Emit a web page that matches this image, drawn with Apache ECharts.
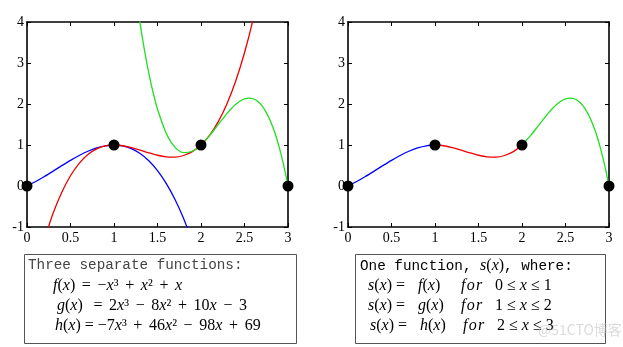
<!DOCTYPE html>
<html><head><meta charset="utf-8">
<script src="https://cdn.jsdelivr.net/npm/echarts@6/dist/echarts.min.js"></script>
<style>html,body{margin:0;padding:0;background:#fff}#c{width:623px;height:347px}</style>
</head><body><div id="c"></div>
<script>
// x positions and values
const fX = [0,0.1,0.2,0.3,0.4,0.5,0.6,0.7,0.8,0.9,1.0,1.1,1.2,1.3,1.4,1.5,1.6,1.7,1.8,1.9];
const fY = [0,0.109,0.232,0.363,0.496,0.625,0.744,0.847,0.928,0.981,1,0.979,0.912,0.793,0.616,0.375,0.064,-0.323,-0.792,-1.349];
const gX = [0.2,0.3,0.4,0.5,0.6,0.7,0.8,0.9,1.0,1.1,1.2,1.3,1.4,1.5,1.6,1.7,1.8,1.9,2.0,2.1,2.2,2.3,2.4,2.5,2.6,2.7];
const gY = [-1.304,-0.666,-0.152,0.25,0.552,0.766,0.904,0.978,1,0.982,0.936,0.874,0.808,0.75,0.712,0.706,0.744,0.838,1,1.242,1.576,2.014,2.568,3.25,4.072,5.046];
const hX = [1.2,1.25,1.3,1.35,1.4,1.45,1.5,1.6,1.7,1.8,1.9,2.0,2.1,2.2,2.3,2.35,2.4,2.45,2.5,2.55,2.6,2.65,2.7,2.75,2.8,2.85,2.9,2.95,3.0];
const hY = [5.544,4.703,3.961,3.312,2.752,2.275,1.875,1.288,0.949,0.816,0.847,1,1.233,1.504,1.771,1.890,1.992,2.072,2.125,2.145,2.128,2.068,1.959,1.797,1.576,1.291,0.937,0.508,0];
const knotX = [0,1,2,3];
const knotY = [0,1,1,0];
const xTicks = ['0','0.5','1','1.5','2','2.5','3'];
const yTicks = ['-1','0','1','2','3','4'];

const pairs = (xs, ys) => xs.map((x, i) => [x, ys[i]]);
const range = (xs, ys, a, b) => pairs(xs, ys).filter(p => p[0] >= a - 1e-9 && p[0] <= b + 1e-9);

const labelFont = {fontFamily: 'Liberation Serif', fontSize: 14, color: '#000'};
function xAxes(gi) {
  return [
    {gridIndex: gi, type: 'value', min: 0, max: 3, interval: 0.5, position: 'bottom',
     axisLine: {show: true, onZero: false, lineStyle: {color: '#000', width: 1.6}},
     axisTick: {show: true, inside: true, length: 4, lineStyle: {color: '#000'}},
     axisLabel: Object.assign({margin: 4, formatter: v => xTicks[Math.round(v * 2)]}, labelFont),
     splitLine: {show: false}},
    {gridIndex: gi, type: 'value', min: 0, max: 3, interval: 0.5, position: 'top',
     axisLine: {show: true, onZero: false, lineStyle: {color: '#000', width: 1.6}},
     axisTick: {show: true, inside: true, length: 4, lineStyle: {color: '#000'}},
     axisLabel: {show: false}, splitLine: {show: false}}
  ];
}
function yAxes(gi) {
  return [
    {gridIndex: gi, type: 'value', min: -1, max: 4, interval: 1, position: 'left',
     axisLine: {show: true, onZero: false, lineStyle: {color: '#000', width: 1.6}},
     axisTick: {show: true, inside: true, length: 4, lineStyle: {color: '#000'}},
     axisLabel: Object.assign({margin: 3, formatter: v => yTicks[v + 1]}, labelFont),
     splitLine: {show: false}},
    {gridIndex: gi, type: 'value', min: -1, max: 4, interval: 1, position: 'right',
     axisLine: {show: true, onZero: false, lineStyle: {color: '#000', width: 1.6}},
     axisTick: {show: true, inside: true, length: 4, lineStyle: {color: '#000'}},
     axisLabel: {show: false}, splitLine: {show: false}}
  ];
}
function lineS(xi, yi, data, color) {
  return {type: 'line', xAxisIndex: xi, yAxisIndex: yi, data: data, smooth: 0.3,
    showSymbol: false, symbol: 'none', clip: true, silent: true,
    lineStyle: {color: color, width: 1.3}};
}
function dots(xi, yi) {
  return {type: 'scatter', xAxisIndex: xi, yAxisIndex: yi, data: pairs(knotX, knotY),
    symbol: 'circle', symbolSize: 11, itemStyle: {color: '#000', opacity: 1}, clip: false, z: 10, silent: true};
}
const BLUE = '#0000ff', RED = '#ee0000', GREEN = '#22dd22';

const mono = 'Liberation Mono';
const math = 'Liberation Serif';
const rich = {
  i: {fontFamily: math, fontStyle: 'italic', fontSize: 16, color: '#222'},
  n: {fontFamily: math, fontSize: 16, color: '#222'},
  m: {fontFamily: mono, fontSize: 14.3, color: '#444'}
};
const S = ' \u2006'; // widened operator spacing
function eq(x, y, text) {
  return {type: 'text', left: x, top: y, style: {text: text, rich: rich}};
}
function row(y, dx, fn, lo, hi) {
  return [
    eq(368 + dx, y, '{i|s}{n|(}{i|x}{n|) =}'),
    eq(418 + dx, y, '{i|' + fn + '}{n|(}{i|x}{n|)}'),
    eq(461 + dx, y, '{i|f\u200ao\u200ar}'),
    eq(495 + dx, y, '{n|' + lo + ' ≤ }{i|x}{n| ≤ ' + hi + '}')
  ];
}

const chart = echarts.init(document.getElementById('c'), null, {renderer: 'canvas'});
chart.setOption({
  animation: false,
  backgroundColor: '#fff',
  grid: [
    {left: 27, right: 335, top: 22, bottom: 120},
    {left: 348, right: 14, top: 22, bottom: 120}
  ],
  xAxis: xAxes(0).concat(xAxes(1)),
  yAxis: yAxes(0).concat(yAxes(1)),
  series: [
    lineS(0, 0, pairs(fX, fY), BLUE),
    lineS(0, 0, pairs(gX, gY), RED),
    lineS(0, 0, pairs(hX, hY), GREEN),
    dots(0, 0),
    lineS(2, 2, range(fX, fY, 0, 1), BLUE),
    lineS(2, 2, range(gX, gY, 1, 2), RED),
    lineS(2, 2, range(hX, hY, 2, 3), GREEN),
    dots(2, 2)
  ],
  graphic: [
    {type: 'rect', left: 22, top: 252, shape: {width: 272, height: 89}, style: {fill: 'none', stroke: '#555', lineWidth: 1}},
    {type: 'rect', left: 353, top: 252, shape: {width: 250, height: 89}, style: {fill: 'none', stroke: '#555', lineWidth: 1}},
    {type: 'text', left: 28, top: 258, style: {text: 'Three separate functions:', fontFamily: mono, fontSize: 14.3, fill: '#444'}},
    eq(53, 278, '{i|f}{n|(}{i|x}{n|)' + S + '=' + S + '−}{i|x}{n|³' + S + '+' + S + '}{i|x}{n|²' + S + '+' + S + '}{i|x}'),
    eq(57, 298, '{i|g}{n|(}{i|x}{n|)' + S + ' =' + S + '2}{i|x}{n|³' + S + '−' + S + '8}{i|x}{n|²' + S + '+' + S + '10}{i|x}{n|' + S + '−' + S + '3}'),
    eq(55, 318, '{i|h}{n|(}{i|x}{n|) = −7}{i|x}{n|³' + S + '+' + S + '46}{i|x}{n|²' + S + '−' + S + '98}{i|x}{n|' + S + '+' + S + '69}'),
    {type: 'text', left: 360, top: 258, style: {text: '{m|One function, }{i|s}{n|(}{i|x}{n|)}{m|, where:}', rich: rich}}
  ].concat(row(278, 0, 'f', '0', '1'), row(298, 0, 'g', '1', '2'), row(318, 2, 'h', '2', '3'), [
    {type: 'text', left: 538, top: 323, style: {text: '@51CTO博客', fontFamily: 'Noto Sans CJK SC', fontSize: 14, fill: 'rgba(190,190,190,0.55)'}}
  ])
});
</script></body></html>
